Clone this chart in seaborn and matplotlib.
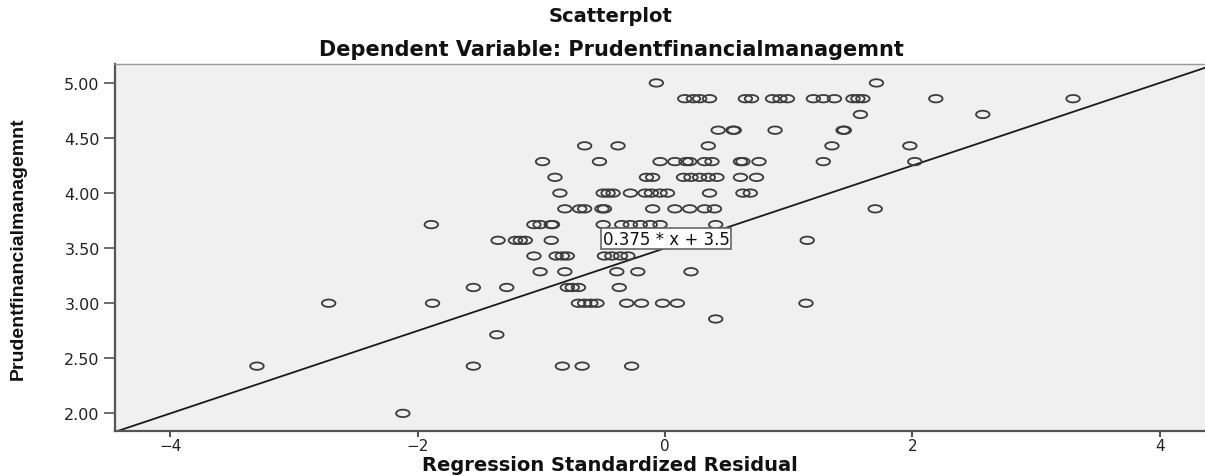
import matplotlib
matplotlib.use("Agg")
import matplotlib.pyplot as plt
from matplotlib.path import Path
from matplotlib.transforms import Affine2D
import pandas as pd
import seaborn as sns

# values, grouped by y level (scores come in steps of 1/7)
y_levels = [5.00, 4.857, 4.714, 4.571, 4.429, 4.286, 4.143, 4.00, 3.857,
            3.714, 3.571, 3.429, 3.286, 3.143, 3.00, 2.857, 2.714, 2.429, 2.00]
x_rows = [
    [-0.07, 1.71],
    [0.16, 0.23, 0.28, 0.36, 0.65, 0.70, 0.87, 0.93, 0.99, 1.20, 1.28, 1.37,
     1.52, 1.56, 1.60, 2.19, 3.30],
    [1.58, 2.57],
    [0.43, 0.55, 0.56, 0.89, 1.44, 1.45],
    [-0.65, -0.38, 0.35, 1.35, 1.98],
    [-0.99, -0.53, -0.04, 0.08, 0.17, 0.20, 0.32, 0.38, 0.61, 0.63, 0.76,
     1.28, 2.02],
    [-0.89, -0.15, -0.10, 0.15, 0.21, 0.28, 0.35, 0.42, 0.61, 0.74],
    [-0.85, -0.50, -0.46, -0.42, -0.28, -0.16, -0.11, -0.04, 0.02, 0.36,
     0.63, 0.69],
    [-0.81, -0.69, -0.65, -0.51, -0.49, -0.10, 0.08, 0.20, 0.32, 0.40, 1.70],
    [-1.89, -1.06, -1.01, -0.92, -0.91, -0.50, -0.35, -0.28, -0.20, -0.12,
     -0.04, 0.41],
    [-1.35, -1.21, -1.17, -1.13, -0.92, 1.15],
    [-1.06, -0.88, -0.83, -0.79, -0.49, -0.43, -0.36, -0.30],
    [-1.01, -0.81, -0.39, -0.22, 0.21],
    [-1.55, -1.28, -0.79, -0.75, -0.70, -0.37],
    [-2.72, -1.88, -0.70, -0.65, -0.60, -0.55, -0.31, -0.19, -0.02, 0.10,
     1.14],
    [0.41],
    [-1.36],
    [-3.30, -1.55, -0.83, -0.67, -0.27],
    [-2.12],
]
slope = 0.375
intercept = 3.5
x_ticks = [-4, -2, 0, 2, 4]
y_ticks = [2.0, 2.5, 3.0, 3.5, 4.0, 4.5, 5.0]

resid = []
score = []
for yv, xs in zip(y_levels, x_rows):
    for xv in xs:
        resid.append(xv)
        score.append(yv)
df = pd.DataFrame({"Regression Standardized Residual": resid,
                   "Prudentfinancialmanagemnt": score})

sns.set_style("white")
plt.rcParams['font.family'] = ['DejaVu Sans']

fig = plt.figure(figsize=(12.05, 4.77), dpi=100)
ax = fig.add_axes([115 / 1205, 1 - 432 / 477, 1 - 115 / 1205, (432 - 65) / 477])
ax.set_facecolor("#f0f0f0")

# SPSS circles look flattened in this picture
oval = Affine2D().scale(1.0, 0.55).transform_path(Path.unit_circle())
sns.scatterplot(data=df, x="Regression Standardized Residual",
                y="Prudentfinancialmanagemnt", marker=oval, s=95,
                facecolor="none", edgecolor="#3c3c3c", linewidth=1.3, ax=ax,
                zorder=3)

ax.axline((0, intercept), slope=slope, color="#1a1a1a", lw=1.3, zorder=2)
ax.text(0.01, intercept + 0.005, "0.375 * x + 3.5", ha="center", va="bottom",
        fontsize=12, color="#111111", zorder=4,
        bbox=dict(boxstyle="square,pad=0.08", fc="white", ec="#666666", lw=1.2))

ax.set_xlim(-4.448, 4.367)
ax.set_ylim(1.84, 5.172)
ax.set_xticks(x_ticks)
ax.set_yticks(y_ticks)
ax.set_yticklabels(["%.2f" % v for v in y_ticks])
ax.tick_params(axis="y", direction="out", length=8, width=1.2, color="#555555",
               labelsize=11.5, labelcolor="#222222", pad=3, left=True)
ax.tick_params(axis="x", direction="out", length=4, width=1.5, color="#555555",
               labelsize=11, labelcolor="#222222", pad=1, bottom=True)

for side in ["left", "bottom"]:
    ax.spines[side].set_color("#555555")
    ax.spines[side].set_linewidth(1.6)
ax.spines["top"].set_color("#999999")
ax.spines["top"].set_linewidth(1.0)
ax.spines["right"].set_visible(False)

ax.set_xlabel("Regression Standardized Residual", fontsize=14,
              fontweight="bold", color="#111111")
ax.xaxis.label.set_va("center")
ax.xaxis.set_label_coords((610 - 115) / 1090, (432 - 466) / 367)
ax.set_ylabel("Prudentfinancialmanagemnt", fontsize=14, fontweight="bold",
              color="#111111", family=["Liberation Sans", "DejaVu Sans"])
ax.yaxis.label.set_va("center")
ax.yaxis.set_label_coords((18 - 115) / 1090, 0.5)

fig.text(611 / 1205, 1 - 17 / 477, "Scatterplot", ha="center", va="center",
         fontsize=14, fontweight="bold", color="#111111")
fig.text(611 / 1205, 1 - 50 / 477, "Dependent Variable: Prudentfinancialmanagemnt",
         ha="center", va="center", fontsize=15, fontweight="bold",
         color="#111111")

fig.savefig("out.png", dpi=100, facecolor="white")
